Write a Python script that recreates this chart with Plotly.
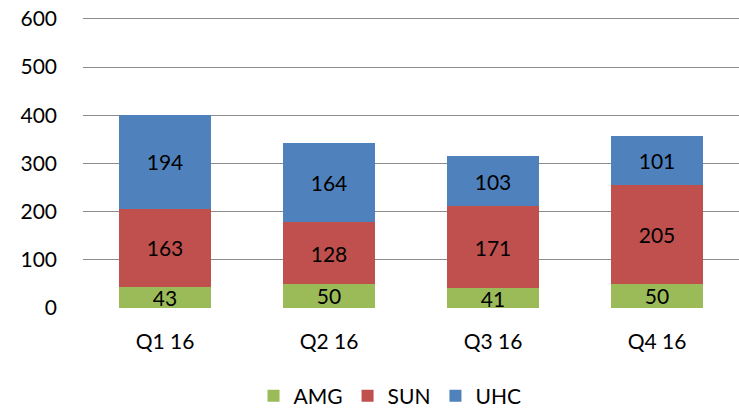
import plotly.graph_objects as go

categories = ["Q1 16", "Q2 16", "Q3 16", "Q4 16"]
amg = [43, 50, 41, 50]
sun = [163, 128, 171, 205]
uhc = [194, 164, 103, 101]
y_ticks = [0, 100, 200, 300, 400, 500, 600]

FONT = "Lato"
FS = 21
series = [("AMG", amg, "#9BBB59"), ("SUN", sun, "#C0504D"), ("UHC", uhc, "#4F81BD")]

fig = go.Figure()
for name, vals, color in series:
    fig.add_trace(go.Bar(
        name=name, x=categories, y=vals, marker_color=color, marker_line_width=0,
        text=[str(v) for v in vals], textposition="inside", insidetextanchor="middle",
        textangle=0, constraintext="none",
        textfont=dict(family=FONT, size=FS, color="black"),
    ))

fig.update_layout(
    barmode="stack", bargap=0.44,
    width=739, height=409,
    margin=dict(l=83, r=0, t=14, b=101, autoexpand=False),
    plot_bgcolor="white", paper_bgcolor="white",
    font=dict(family=FONT, size=FS, color="black"),
    uniformtext=dict(minsize=FS, mode="show"),
    showlegend=True,
    legend=dict(orientation="h", x=0.468, xanchor="center", y=-0.30,
                yanchor="middle", font=dict(family=FONT, size=FS), itemwidth=30,
                traceorder="normal"),
)
fig.update_xaxes(showgrid=False, showline=False, ticks="", ticklabelstandoff=19)
fig.update_yaxes(range=[0, 610], tickvals=y_ticks, showgrid=True, gridcolor="#8C8C8C",
                 gridwidth=1.3, zeroline=False, ticks="", ticklabelstandoff=25)

fig.write_html("out.html", config={"displayModeBar": False},
               post_script="document.body.style.margin='0';")
